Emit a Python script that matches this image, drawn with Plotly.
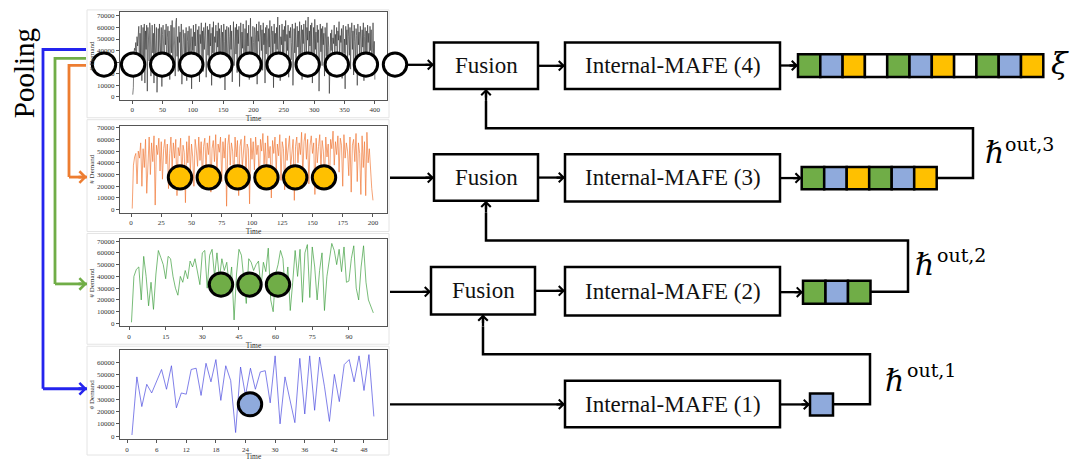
import plotly.graph_objects as go

W, H = 1071, 461

# ---------------- data (demand, in thousands) ----------------
demand_400_k = [
    2, 8, 38, 42, 40, 47, 30, 52, 44, 58, 61, 20, 55, 35, 62, 14, 48, 60, 25, 63,
    12, 57, 41, 62, 5, 60, 50, 31, 64, 58, 18, 46, 62, 38, 55, 12, 63, 28, 44, 60,
    4, 52, 59, 22, 63, 47, 36, 60, 9, 54, 62, 40, 28, 58, 45, 63, 20, 51, 61, 33,
    57, 15, 49, 62, 38, 66, 26, 53, 60, 44, 18, 64, 68, 35, 52, 22, 61, 47, 56, 30,
    63, 11, 42, 58, 50, 24, 55, 36, 60, 14, 48, 57, 32, 61, 26, 45, 59, 7, 52, 40,
    62, 28, 56, 44, 63, 19, 50, 58, 35, 61, 13, 54, 46, 64, 30, 57, 22, 60, 41, 53,
    64, 17, 49, 61, 36, 58, 25, 63, 44, 55, 10, 60, 38, 65, 29, 52, 47, 62, 20, 57,
    43, 64, 33, 59, 16, 51, 62, 39, 56, 24, 63, 48, 6, 58, 35, 61, 45, 19, 60, 52,
    30, 62, 41, 57, 13, 54, 65, 27, 49, 60, 37, 63, 21, 58, 46, 61, 9, 53, 64, 34,
    56, 42, 63, 18, 50, 59, 31, 66, 25, 55, 44, 62, 15, 58, 68, 38, 52, 27, 61, 47,
    20, 60, 54, 36, 63, 11, 57, 48, 65, 29, 51, 62, 40, 58, 23, 64, 45, 55, 12, 60,
    37, 62, 50, 26, 59, 43, 66, 19, 53, 61, 33, 57, 8, 63, 46, 55, 30, 60, 41, 69,
    24, 56, 62, 14, 52, 45, 63, 35, 58, 22, 61, 48, 66, 28, 54, 40, 62, 17, 57, 51,
    60, 32, 47, 63, 10, 55, 59, 38, 64, 26, 50, 61, 43, 57, 20, 65, 36, 53, 62, 15,
    58, 46, 63, 29, 55, 66, 34, 60, 49, 69, 21, 57, 44, 62, 37, 64, 12, 54, 60, 31,
    67, 41, 56, 23, 62, 47, 58, 5, 53, 63, 39, 59, 27, 61, 45, 55, 18, 60, 50, 35,
    64, 26, 52, 43, 3, 48, 55, 40, 58, 36, 51, 46, 62, 30, 54, 44, 60, 21, 57, 49,
    65, 33, 53, 47, 59, 16, 56, 62, 38, 50, 7, 61, 45, 58, 28, 63, 52, 36, 60, 24,
    55, 64, 41, 57, 19, 62, 48, 31, 59, 53, 10, 63, 45, 56, 34, 61, 50, 26, 58, 43,
    64, 14, 52, 60, 37, 57, 22, 62, 47, 55, 30, 61, 40, 58, 18, 53, 64, 33, 48, 15,
]
demand_200_k = [
    1, 38, 45, 48, 22, 50, 44, 57, 20, 52, 36, 60, 14, 43, 62, 30, 57, 41, 63, 4,
    55, 47, 61, 33, 58, 26, 52, 60, 39, 56, 18, 48, 62, 35, 57, 44, 60, 12, 53, 46,
    61, 28, 55, 49, 6, 58, 40, 63, 32, 56, 45, 20, 60, 51, 37, 62, 42, 58, 27, 54,
    61, 35, 57, 47, 63, 15, 52, 59, 41, 64, 30, 56, 49, 62, 24, 58, 44, 61, 3, 55,
    64, 38, 57, 50, 26, 62, 45, 59, 12, 54, 60, 36, 48, 63, 29, 56, 52, 5, 61, 43,
    58, 34, 62, 47, 55, 20, 60, 50, 65, 39, 57, 28, 63, 44, 54, 10, 59, 48, 62, 33,
    56, 46, 64, 25, 58, 52, 17, 61, 42, 55, 63, 36, 49, 60, 8, 54, 62, 40, 57, 47,
    66, 30, 58, 65, 43, 60, 22, 55, 63, 48, 57, 13, 61, 40, 54, 64, 35, 59, 50, 27,
    62, 45, 56, 18, 60, 52, 67, 38, 58, 47, 63, 32, 61, 55, 20, 64, 44, 57, 50, 29,
    62, 15, 55, 60, 41, 65, 24, 57, 48, 13, 63, 36, 58, 12, 66, 40, 52, 30, 18, 8,
]
demand_100_k = [
    1, 40, 46, 48, 20, 57, 40, 15, 35, 12, 42, 62, 56, 50, 38, 57, 55, 40, 30, 24,
    40, 35, 45, 38, 53, 48, 55, 42, 33, 60, 62, 30, 58, 63, 40, 60, 38, 55, 45, 52,
    32, 48, 3, 42, 63, 58, 40, 17, 55, 52, 45, 50, 53, 30, 52, 44, 64, 20, 10, 42,
    50, 62, 55, 25, 48, 11, 35, 62, 40, 63, 18, 60, 67, 22, 65, 48, 20, 45, 60, 11,
    40, 55, 68, 62, 50, 63, 44, 65, 35, 36, 55, 66, 30, 20, 48, 66, 35, 20, 15, 9,
]
demand_50_k = [
    1, 48, 24, 42, 35, 45, 54, 38, 57, 23, 35, 34, 54, 55, 33, 59, 44, 62, 29, 57,
    45, 3, 56, 33, 55, 38, 52, 53, 27, 65, 10, 48, 30, 11, 63, 18, 65, 21, 64, 40,
    12, 50, 28, 58, 62, 44, 65, 37, 66, 16,
]

# tick labels of each panel
x_ticks_400 = [0, 50, 100, 150, 200, 250, 300, 350, 400]
x_ticks_200 = [0, 25, 50, 75, 100, 125, 150, 175, 200]
x_ticks_100 = [0, 15, 30, 45, 60, 75, 90]
x_ticks_50 = [0, 6, 12, 18, 24, 30, 36, 42, 48]
y_ticks_70k = [0, 10000, 20000, 30000, 40000, 50000, 60000, 70000]
y_ticks_60k = [0, 10000, 20000, 30000, 40000, 50000, 60000]

# output vectors (colour of each cell)
vec4_cells = ["g", "b", "y", "w", "g", "b", "y", "w", "g", "b", "y"]
vec3_cells = ["g", "b", "y", "g", "b", "y"]
vec2_cells = ["g", "b", "g"]
vec1_cells = ["b"]

# pooled-token circles per scale
circles_4 = 11
circles_3 = 6
circles_2 = 3
circles_1 = 1

CELL = {"g": "#70ad47", "b": "#8faadc", "y": "#ffc000", "w": "#ffffff"}
SERIF = "Liberation Serif, Times New Roman, serif"


def X(px):
    return px / W


def Y(py):
    return 1 - py / H


fig = go.Figure()

# ---------------- time-series subplots ----------------
panels = [
    dict(v=demand_400_k, color="#2a2a2a", lw=0.6, box=(120, 387, 10, 99), xr=[-20, 420], yr=[-2561, 73415], xt=x_ticks_400, yt=y_ticks_70k),
    dict(v=demand_200_k, color="#f07a3a", lw=0.7, box=(120, 387, 125, 213), xr=[-9.1, 211.6], yr=[-2530, 71687], xt=x_ticks_200, yt=y_ticks_70k),
    dict(v=demand_100_k, color="#3f9f3f", lw=0.7, box=(120, 387, 240, 328), xr=[-3.7, 105.6], yr=[-2521, 71430], xt=x_ticks_100, yt=y_ticks_70k),
    dict(v=demand_50_k, color="#4b4bdf", lw=0.7, box=(120, 387, 352, 442), xr=[-1.42, 52.66], yr=[-2400, 69600], xt=x_ticks_50, yt=y_ticks_60k),
]

axis_common = dict(
    showgrid=False, zeroline=False, showline=True, mirror=True,
    linecolor="#555555", linewidth=1, ticks="outside", ticklen=3, tickwidth=1,
    tickcolor="#555555", tickfont=dict(family=SERIF, size=7, color="#333333"),
)

for i, p in enumerate(panels, start=1):
    sfx = "" if i == 1 else str(i)
    xs = list(range(1, len(p["v"]) + 1))
    ys = [v * 1000 for v in p["v"]]
    fig.add_trace(go.Scatter(
        x=xs, y=ys, mode="lines", line=dict(color=p["color"], width=p["lw"]),
        xaxis="x" + sfx, yaxis="y" + sfx, showlegend=False, hoverinfo="skip",
    ))
    x0, x1, y0, y1 = p["box"]
    fig.layout["xaxis" + sfx] = dict(
        axis_common, domain=[X(x0), X(x1)], range=p["xr"], anchor="y" + sfx,
        tickmode="array", tickvals=p["xt"], ticktext=[str(t) for t in p["xt"]],
        title=dict(text="Time", font=dict(family=SERIF, size=7.5, color="#333"), standoff=2),
    )
    fig.layout["yaxis" + sfx] = dict(
        axis_common, domain=[Y(y1), Y(y0)], range=p["yr"], anchor="x" + sfx,
        tickmode="array", tickvals=p["yt"], ticktext=[str(t) for t in p["yt"]],
        title=dict(text="# Demand", font=dict(family=SERIF, size=7, color="#333"), standoff=1),
    )

shapes = []
annos = []


def rect(x0, y0, x1, y1, fill="white", lw=2.5, color="black", layer="above"):
    shapes.append(dict(type="rect", xref="paper", yref="paper", x0=X(x0), x1=X(x1), y0=Y(y1), y1=Y(y0),
                       line=dict(color=color, width=lw), fillcolor=fill, layer=layer))


def circle(cx, cy, r, fill):
    shapes.append(dict(type="circle", xref="paper", yref="paper", x0=X(cx - r), x1=X(cx + r),
                       y0=Y(cy + r), y1=Y(cy - r), line=dict(color="black", width=3), fillcolor=fill, layer="above"))


def poly(pts, color="black", lw=2.5):
    d = "M " + " L ".join(f"{X(a):.6f},{Y(b):.6f}" for a, b in pts)
    shapes.append(dict(type="path", xref="paper", yref="paper", path=d,
                       line=dict(color=color, width=lw), layer="above"))


def head(x0, y0, x1, y1, color="black", lw=2.3):
    # arrow from (x0,y0) to (x1,y1) in pixels; line drawn as shape, head as annotation
    poly([(x0, y0), (x1, y1)], color=color, lw=lw)
    ddx, ddy = x0 - x1, y0 - y1
    n = max((ddx ** 2 + ddy ** 2) ** 0.5, 1e-6)
    annos.append(dict(x=X(x1), y=Y(y1), xref="paper", yref="paper", text="",
                      ax=ddx / n * 10, ay=ddy / n * 10, axref="pixel", ayref="pixel",
                      showarrow=True, arrowhead=4, arrowsize=0.8, arrowwidth=lw,
                      arrowcolor=color, standoff=0))


def label(x, y, txt, size, color="black", family=SERIF, angle=0, xanchor="center"):
    annos.append(dict(x=X(x), y=Y(y), xref="paper", yref="paper", text=txt, showarrow=False,
                      font=dict(family=family, size=size, color=color), textangle=angle,
                      xanchor=xanchor, yanchor="middle"))


# faint frames of the pasted plot images
for (a, b) in [(8, 117), (119, 232), (234, 346), (348, 458)]:
    rect(87, a, 389, b, fill="rgba(0,0,0,0)", lw=1, color="#e4e4e4", layer="below")

# pooling lines
BLUE, GREEN, ORANGE = "#2424ee", "#70ad47", "#ed7d31"
poly([(86, 48), (43, 48), (43, 391)], BLUE, 2.8)
head(43, 391, 87, 391, BLUE, 2.8)
poly([(86, 57), (55, 57), (55, 285)], GREEN, 2.8)
head(55, 285, 87, 285, GREEN, 2.8)
poly([(86, 64), (69, 64), (69, 177)], ORANGE, 2.8)
head(69, 177, 87, 177, ORANGE, 2.8)
label(24, 72, "Pooling", 29, angle=-90)

# circles
for k in range(circles_4):
    circle(104 + k * 29.1, 63.3, 11.7, "white")
for k in range(circles_3):
    circle(180 + k * 28.8, 177.3, 11.7, "#ffc000")
for k in range(circles_2):
    circle(221 + k * 28.5, 285.7, 11.7, "#70ad47")
for k in range(circles_1):
    circle(250, 406.7, 11.7, "#8faadc")

# inputs to fusion / MAFE
head(406, 63.5, 434, 63.5)
head(390, 177.7, 434, 177.7)
head(390, 293, 431, 293)
head(390, 406.7, 565, 406.7)

# boxes
fusion_boxes = [(434, 41, 538, 88), (434, 154, 538, 201), (431, 268, 535, 316)]
mafe_boxes = [(565, 41, 780, 88), (565, 154, 780, 201.7), (565, 268, 780, 317), (565, 383, 780, 430)]
for (a, b, c, d) in fusion_boxes:
    rect(a, b, c, d)
    label((a + c) / 2, (b + d) / 2, "Fusion", 23, color="#111")
    head(c, (b + d) / 2, 565, (b + d) / 2)
for idx, (a, b, c, d) in enumerate(mafe_boxes):
    rect(a, b, c, d)
    label((a + c) / 2, (b + d) / 2, f"Internal-MAFE ({4 - idx})", 23, color="#111")

# output vectors
vectors = [(vec4_cells, 798, 22.3, 52.7, 75.7), (vec3_cells, 801.7, 22.5, 166.7, 189.3),
           (vec2_cells, 803, 22.5, 281.7, 305), (vec1_cells, 810, 23, 395.7, 418)]
for cells, x0, w, y0, y1 in vectors:
    head(780, (y0 + y1) / 2, x0, (y0 + y1) / 2)
    for k, c in enumerate(cells):
        rect(x0 + k * w, y0, x0 + (k + 1) * w, y1, fill=CELL[c], lw=2.5)

# feedback loops
poly([(937, 178), (973, 178), (973, 127.7), (486, 127.7), (486, 100)])
head(486, 100, 486, 88)
poly([(870.5, 293), (908, 293), (908, 241), (486, 241), (486, 213)])
head(486, 213, 486, 201)
poly([(833, 406.7), (870, 406.7), (870, 356), (483, 356), (483, 328)])
head(483, 328, 483, 316)

# labels
label(1060, 62, "<i>ξ</i>", 30, family="DejaVu Serif, serif")
for (hx, hy, sx, sy, t) in [(994, 152, 1029, 144, "out,3"), (924, 265, 961, 256, "out,2"), (894, 383, 931, 372, "out,1")]:
    label(hx, hy, "<i>ℏ</i>", 30, family="DejaVu Serif, serif")
    label(sx, sy, t, 19, family="DejaVu Serif, serif")

fig.update_layout(
    width=W, height=H, margin=dict(l=0, r=0, t=0, b=0),
    paper_bgcolor="white", plot_bgcolor="rgba(0,0,0,0)",
    shapes=shapes, annotations=annos, showlegend=False,
    font=dict(family=SERIF),
)

fig.write_html("out.html")
